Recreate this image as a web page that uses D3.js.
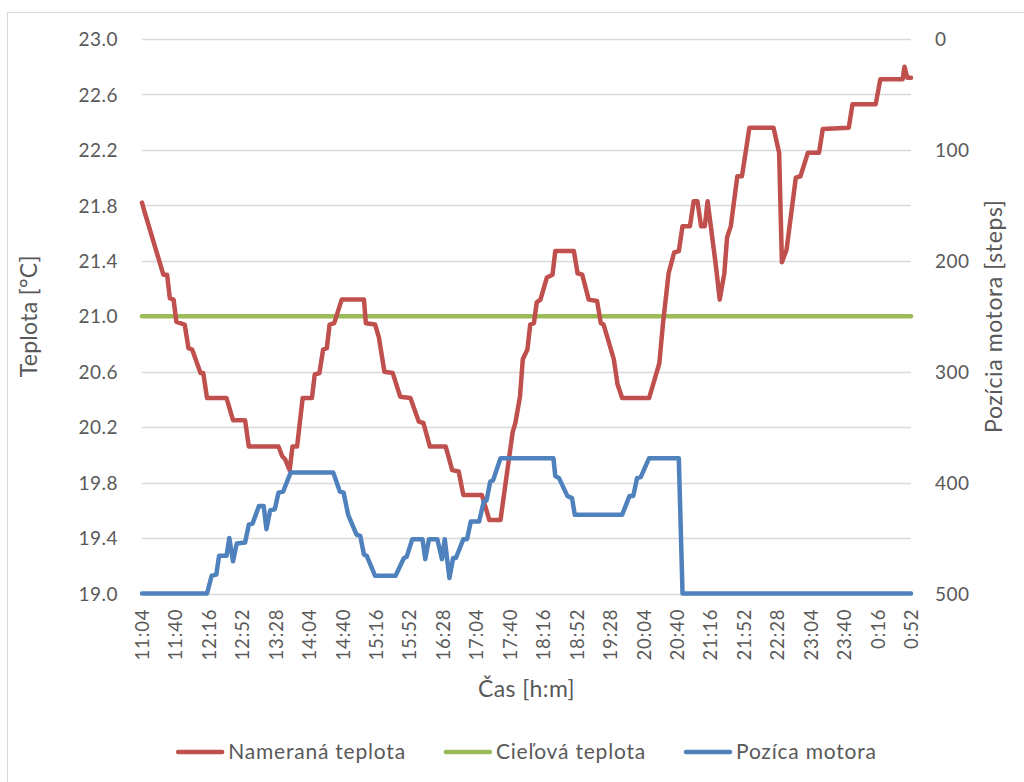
<!DOCTYPE html>
<html>
<head>
<meta charset="utf-8">
<script src="https://cdn.jsdelivr.net/npm/d3@7"></script>
<style>
  body { margin: 0; background: #fff; }
  svg text { font-family: Lato, "Open Sans", sans-serif; fill: #595959; }
</style>
</head>
<body>
<svg id="canvas" width="1024" height="782"></svg>
<script>
// time in minutes since 11:04
let xLabels = ["11:04","11:40","12:16","12:52","13:28","14:04","14:40","15:16","15:52","16:28","17:04","17:40",
               "18:16","18:52","19:28","20:04","20:40","21:16","21:52","22:28","23:04","23:40","0:16","0:52"]
let labelStep = 36
let tempTicks = [19.0,19.4,19.8,20.2,20.6,21.0,21.4,21.8,22.2,22.6,23.0]
let motorTicks = [0,100,200,300,400,500]

// Nameraná teplota
let tempMinutes = [0,2,23,27,30,34,37,46,50,54,63,66,70,91,98,111,115,147,151,154,159,162,167,173,183,186,191,195,199,202,
  207,215,239,241,251,255,261,270,278,289,298,303,310,327,334,341,346,366,374,386,399,402,407,410,415,418,422,425,429,436,
  442,445,465,469,474,481,490,494,497,508,512,517,546,557,561,567,573,578,582,590,594,598,602,606,609,618,622,627,630,634,
  641,646,654,680,686,689,694,704,709,717,729,733,761,765,790,795,819,821,824,828]
let tempValues = [21.82,21.77,21.30,21.30,21.13,21.12,20.96,20.94,20.77,20.76,20.59,20.59,20.41,20.41,20.25,20.25,20.06,20.06,19.99,19.97,
  19.89,20.06,20.06,20.41,20.41,20.58,20.59,20.76,20.77,20.94,20.95,21.12,21.12,20.95,20.94,20.85,20.60,20.59,20.42,20.41,
  20.24,20.23,20.06,20.06,19.89,19.88,19.71,19.71,19.53,19.53,20.16,20.23,20.42,20.69,20.76,20.94,20.95,21.10,21.12,21.28,
  21.30,21.47,21.47,21.31,21.30,21.12,21.11,20.95,20.94,20.69,20.51,20.41,20.41,20.66,20.95,21.31,21.46,21.47,21.65,21.65,
  21.83,21.83,21.65,21.65,21.83,21.36,21.12,21.31,21.57,21.65,22.01,22.01,22.36,22.36,22.18,21.39,21.48,22.00,22.01,22.18,
  22.18,22.35,22.36,22.53,22.53,22.71,22.71,22.80,22.72,22.72]

// Cieľová teplota
let targetMinutes = [0,828]
let targetValues = [21.0,21.0]

// Pozícia motora
let motorMinutes = [0,70,75,80,83,91,94,98,102,111,115,119,126,131,134,138,143,147,152,160,206,213,217,222,231,235,239,242,251,273,
  282,285,291,302,305,309,318,323,326,331,335,338,346,350,354,363,368,371,375,378,386,443,445,449,458,463,466,517,525,529,
  533,537,546,578,582,828]
let motorValues = [500,500,484,483,466,466,450,471,455,454,438,437,421,421,442,425,424,409,408,391,391,408,409,429,447,448,465,466,484,484,
  468,467,451,451,469,451,451,469,451,486,468,468,451,451,435,435,417,416,399,398,378,378,394,396,412,414,429,429,412,412,
  396,395,378,378,500,500]

let canvas = d3.select("#canvas")

let plotLeft = 142, plotRight = 911, plotTop = 39, plotBottom = 593.5

let x = d3.scaleLinear().domain([0, (xLabels.length-1)*labelStep]).range([plotLeft, plotRight])
let yT = d3.scaleLinear().domain([19, 23]).range([plotBottom, plotTop])
let yM = d3.scaleLinear().domain([0, 500]).range([plotTop, plotBottom])

// chart border
canvas.append('rect')
    .attr('x', 7.5).attr('y', 12.5)
    .attr('width', 1030).attr('height', 800)
    .attr('fill', 'none').attr('stroke', '#d9d9d9')

// gridlines
canvas.append('g').selectAll('line')
    .data(tempTicks)
    .enter()
    .append('line')
    .attr('x1', plotLeft).attr('x2', plotRight)
    .attr('y1', d => Math.round(yT(d)) + 0.5)
    .attr('y2', d => Math.round(yT(d)) + 0.5)
    .attr('stroke', '#d9d9d9')
    .attr('stroke-width', 1.3)

// left axis
let leftAxis = canvas.append('g')
    .attr('transform', 'translate(' + plotLeft + ',0)')
    .call(d3.axisLeft(yT).tickValues(tempTicks).tickFormat(d3.format('.1f')).tickSize(0).tickPadding(24))
leftAxis.select('.domain').remove()
leftAxis.selectAll('text')
    .style('font-size', '19px').style('letter-spacing', '0.5px')
    .attr('fill', null).attr('dy', '0.35em')

// right axis
let rightAxis = canvas.append('g')
    .attr('transform', 'translate(' + plotRight + ',0)')
    .call(d3.axisRight(yM).tickValues(motorTicks).tickSize(0).tickPadding(24))
rightAxis.select('.domain').remove()
rightAxis.selectAll('text')
    .style('font-size', '19px').style('letter-spacing', '0.5px')
    .attr('fill', null).attr('dy', '0.35em')

// bottom axis
let bottomAxis = canvas.append('g')
    .attr('transform', 'translate(0,' + plotBottom + ')')
    .call(d3.axisBottom(x).tickValues(xLabels.map((l, i) => i*labelStep)).tickFormat((d, i) => xLabels[i]).tickSize(0))
bottomAxis.select('.domain').remove()
bottomAxis.selectAll('text')
    .attr('fill', null)
    .style('font-size', '18.5px')
    .style('letter-spacing', '0.9px')
    .attr('text-anchor', 'end')
    .attr('transform', 'rotate(-90)')
    .attr('x', -15)
    .attr('y', 0)
    .attr('dy', '0.35em')

// axis titles
canvas.append('text')
    .attr('transform', 'translate(37,' + (plotTop+plotBottom)/2 + ') rotate(-90)')
    .attr('text-anchor', 'middle')
    .style('font-size', '23px')
    .style('letter-spacing', '0.3px')
    .text('Teplota [°C]')

canvas.append('text')
    .attr('transform', 'translate(1002,' + (plotTop+plotBottom)/2 + ') rotate(-90)')
    .attr('text-anchor', 'middle')
    .style('font-size', '23px')
    .style('letter-spacing', '0.6px')
    .text('Pozícia motora [steps]')

canvas.append('text')
    .attr('x', (plotLeft+plotRight)/2)
    .attr('y', 697)
    .attr('text-anchor', 'middle')
    .style('font-size', '23px')
    .style('letter-spacing', '0.4px')
    .text('Čas [h:m]')

// series
let series = [
    {name: 'Nameraná teplota', color: '#c0504d', pts: tempMinutes.map((m, i) => [x(m), yT(tempValues[i])])},
    {name: 'Cieľová teplota', color: '#9bbb59', pts: targetMinutes.map((m, i) => [x(m), yT(targetValues[i])])},
    {name: 'Pozíca motora', color: '#4f81bd', pts: motorMinutes.map((m, i) => [x(m), yM(motorValues[i])])}
]

let line = d3.line()

// green first, then red, blue on top
let drawOrder = [1, 0, 2]
drawOrder.forEach(i => {
    canvas.append('path')
        .attr('d', line(series[i].pts))
        .attr('fill', 'none')
        .attr('stroke', series[i].color)
        .attr('stroke-width', 4.5)
        .attr('stroke-linejoin', 'round')
        .attr('stroke-linecap', 'round')
})

// legend
let legend = canvas.append('g')
let lx = 0
series.forEach(s => {
    let g = legend.append('g').attr('transform', 'translate(' + lx + ',0)')
    g.append('line')
        .attr('x1', 2).attr('x2', 46)
        .attr('y1', 0).attr('y2', 0)
        .attr('stroke', s.color)
        .attr('stroke-width', 4.5)
        .attr('stroke-linecap', 'round')
    let t = g.append('text')
        .attr('x', 52)
        .attr('dy', '0.35em')
        .style('font-size', '21px')
        .style('letter-spacing', '0.8px')
        .text(s.name)
    lx += 52 + t.node().getComputedTextLength() + 38
})
let legendWidth = lx - 38
legend.attr('transform', 'translate(' + ((plotLeft+plotRight)/2 - legendWidth/2) + ',752)')
</script>
</body>
</html>
